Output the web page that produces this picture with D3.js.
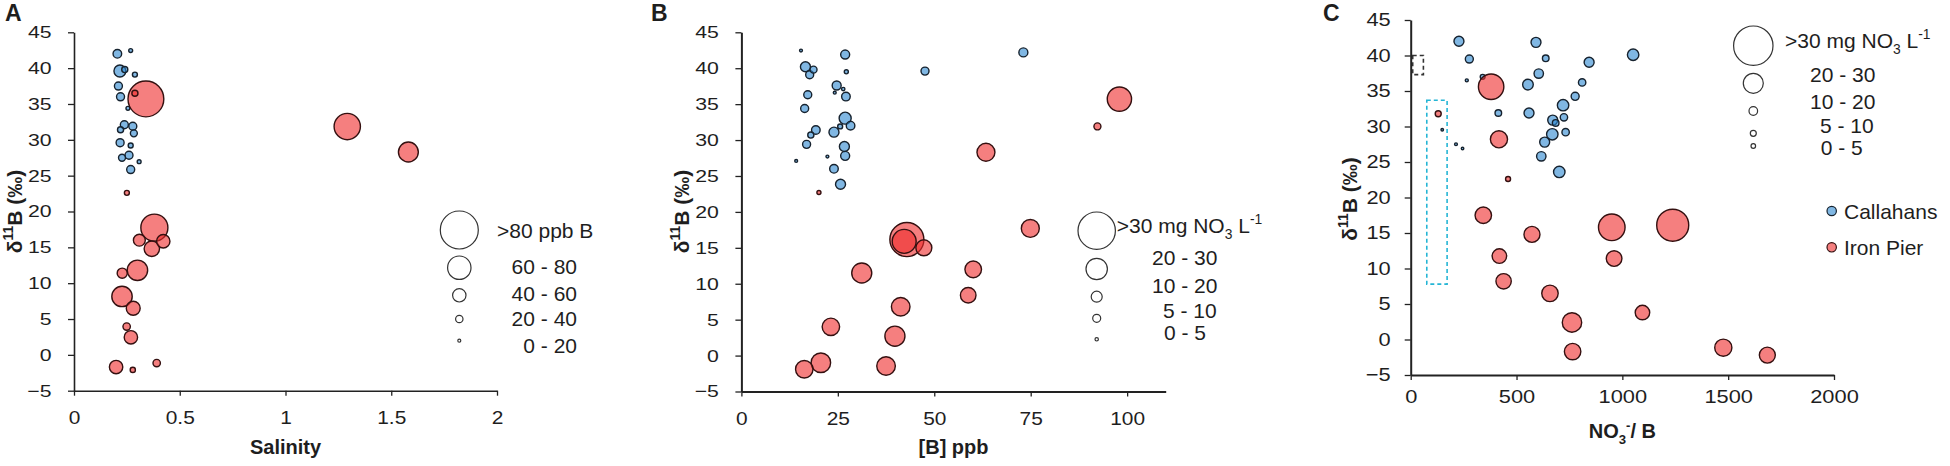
<!DOCTYPE html>
<html>
<head>
<meta charset="utf-8">
<script src="https://cdn.jsdelivr.net/npm/d3@7"></script>
<style>
  body { margin: 0; background: #fff; }
  svg { display: block; }
  text { font-family: "Liberation Sans", Arial, sans-serif; fill: #1e1e1e; }
</style>
</head>
<body>
<svg id="chart" width="1950" height="466"></svg>
<script>
// ---------------------------------------------------------------------------
// Data: [x value, d11B (permil), bubble value]
// ---------------------------------------------------------------------------

// Panel A: salinity vs d11B, bubble = [B] ppb
const salinityCallahans = [
  [0.205, 42.0, 34], [0.268, 42.45, 14], [0.217, 39.6, 45], [0.24, 39.8, 24],
  [0.288, 39.1, 19], [0.21, 37.5, 32], [0.22, 36.0, 32], [0.255, 34.4, 14],
  [0.238, 32.1, 32], [0.278, 31.9, 32], [0.22, 31.4, 24], [0.283, 30.9, 28],
  [0.218, 29.6, 32], [0.268, 29.2, 19], [0.26, 27.85, 32], [0.227, 27.5, 28],
  [0.308, 26.95, 14], [0.268, 25.85, 32]
];
const salinityIronPier = [
  [0.34, 35.7, 87], [0.288, 36.5, 24], [1.292, 31.85, 74], [1.581, 28.3, 63],
  [0.25, 22.6, 19], [0.38, 17.75, 75], [0.309, 16.0, 45], [0.422, 15.85, 50],
  [0.368, 14.8, 54], [0.3, 11.8, 64], [0.228, 11.4, 39], [0.227, 8.15, 64],
  [0.28, 6.5, 51], [0.249, 3.95, 30], [0.269, 2.45, 50], [0.199, -1.7, 50],
  [0.278, -2.1, 20], [0.391, -1.15, 30]
];

// Panel B: [B] ppb vs d11B, bubble = mg NO3 per L
const boronCallahans = [
  [15.45, 42.45, 1.6], [26.9, 41.9, 10], [73.1, 42.2, 10], [16.6, 40.2, 12.5],
  [18.7, 39.8, 6.4], [17.7, 39.1, 7.5], [27.2, 39.5, 3.2], [47.6, 39.6, 7.5],
  [24.7, 37.6, 10], [24.2, 36.6, 1.6], [26.4, 37.1, 2.5], [27.1, 36.05, 9],
  [17.2, 36.3, 7.5], [16.4, 34.4, 7.5], [26.9, 33.05, 16], [25.6, 31.9, 4.2],
  [28.3, 32.0, 9], [19.3, 31.4, 9], [18.0, 30.7, 5.5], [24.0, 31.1, 12.5],
  [16.9, 29.4, 7.5], [26.7, 29.1, 12.5], [26.9, 27.8, 10], [14.2, 27.1, 1.6],
  [22.3, 27.7, 1.6], [24.0, 26.0, 9], [25.7, 23.85, 12.5]
];
const boronIronPier = [
  [20.1, 22.7, 3.2], [98.0, 35.7, 26.8], [92.3, 31.9, 6.4], [63.4, 28.3, 21.7],
  [74.9, 17.7, 21.7], [42.9, 16.15, 32.9], [42.2, 15.9, 26.6], [47.3, 15.0, 19.8],
  [31.2, 11.5, 23.7], [60.1, 12.0, 20.4], [58.8, 8.4, 19.4], [41.3, 6.8, 22.3],
  [23.2, 4.0, 21.2], [39.8, 2.7, 23.7], [20.6, -1.0, 23.2], [16.3, -1.9, 21.2],
  [37.5, -1.45, 22.3]
];

// Panel C: NO3-/B vs d11B, bubble = mg NO3 per L
const ratioCallahans = [
  [228, 42.0, 16.2], [592, 41.85, 16.2], [277, 39.5, 13.3], [638, 39.6, 9.2],
  [843, 39.05, 16.2], [1051, 40.1, 17.5], [605, 37.45, 15.7], [554, 35.9, 16.8],
  [810, 36.2, 11.5], [777, 34.25, 13.3], [720, 33.0, 17.5], [414, 31.9, 9.2],
  [559, 31.9, 16.2], [671, 30.9, 16.2], [685, 30.5, 9.2], [724, 31.3, 11.5],
  [669, 28.9, 17.5], [732, 29.2, 11.5], [633, 27.8, 16.2], [617, 25.8, 15.7],
  [702, 23.6, 17.5], [265, 36.5, 1], [340, 37.0, 3.5], [149, 29.55, 0.5],
  [214, 27.5, 0.8], [245, 26.9, 0.5]
];
const ratioIronPier = [
  [380, 35.6, 27.8], [417, 28.2, 22.5], [130, 31.8, 7.5], [460, 22.6, 3.9],
  [343, 17.5, 21.9], [573, 14.8, 21.5], [419, 11.75, 20.2], [439, 8.2, 20.9],
  [658, 6.5, 21.9], [950, 15.8, 28.4], [961, 11.4, 21.2], [1238, 16.1, 31.2],
  [1095, 3.8, 20.2], [762, 2.4, 24.5], [765, -1.7, 21.9], [1477, -1.15, 22.5],
  [1685, -2.2, 21.5]
];

// Dashed boxes in panel C: [x0, x1, y0, y1]
const boxBlack = [9.5, 60, 37.3, 40.0];
const boxCyan = [76, 172, 7.8, 33.7];

// Ticks and labels
const d11bTicks = [-5, 0, 5, 10, 15, 20, 25, 30, 35, 40, 45];
const salinityTicks = [0, 0.5, 1, 1.5, 2];
const boronTicks = [0, 25, 50, 75, 100];
const ratioTicks = [0, 500, 1000, 1500, 2000];

const boronClasses = [">80 ppb B", "60 - 80", "40 - 60", "20 - 40", "0 - 20"];
const boronClassValues = [90, 70, 50, 30, 10];
const nitrateClasses = [
  [[">30 mg NO"], ["3", "sub"], [" L"], ["-1", "sup"]],
  [["20 - 30"]], [["10 - 20"]], [["5 - 10"]], [["0 - 5"]]
];
const nitrateClassValues = [35, 25, 15, 7.5, 2.5];
const sites = ["Callahans", "Iron Pier"];

// ---------------------------------------------------------------------------
// Styles / helpers
// ---------------------------------------------------------------------------

const FILL = { "Callahans": "#2b87d1", "Iron Pier": "#ee2a2a" };
const EDGE = { "Callahans": "#16222e", "Iron Pier": "#341010" };

const svg = d3.select("#chart");

function rich(text, parts, fs) {
  let cur = 0;
  parts.forEach(([t, kind]) => {
    const off = kind === "sup" ? -0.42 * fs : kind === "sub" ? 0.3 * fs : 0;
    text.append("tspan")
      .attr("dy", off - cur)
      .attr("font-size", kind ? fs * 0.66 : fs)
      .text(t);
    cur = off;
  });
}

const d11bTitle = [["δ"], ["11", "sup"], ["B (‰)"]];

function drawPanel(p) {
  const g = svg.append("g");
  const x = d3.scaleLinear().domain(p.xDomain).range(p.xRange);
  const y = d3.scaleLinear().domain([-5, 45]).range(p.yRange);
  const size = d3.scaleLinear().domain(p.sizeDomain).range(p.sizeRange);

  // x axis
  const xa = g.append("g")
    .attr("transform", `translate(0,${p.yRange[0]})`)
    .call(d3.axisBottom(x).tickValues(p.xTicks).tickFormat((d) => String(d))
      .tickSize(5).tickSizeOuter(0).tickPadding(p.xPad));
  xa.selectAll(".tick text")
    .attr("font-size", p.xFont)
    .attr("transform", `scale(${p.stretch},1)`);

  // y axis
  const ya = g.append("g")
    .attr("transform", `translate(${p.xRange[0]},0)`)
    .call(d3.axisLeft(y).tickValues(d11bTicks).tickSize(6).tickSizeOuter(0).tickPadding(p.yPad));
  ya.selectAll(".tick text")
    .attr("font-size", p.yFont)
    .attr("transform", `scale(${p.yStretch},1)`);

  g.selectAll(".domain").attr("stroke", "#222").attr("stroke-width", p.axisWidth);
  g.selectAll(".tick line").attr("stroke", "#222").attr("stroke-width", 1.3);
  g.selectAll(".tick text").style("font-family", "'Liberation Sans', Arial, sans-serif").attr("fill", "#1e1e1e");

  // annotation boxes
  (p.boxes || []).forEach(([b, col]) => {
    g.append("rect")
      .attr("x", x(b[0])).attr("y", y(b[3]))
      .attr("width", x(b[1]) - x(b[0])).attr("height", y(b[2]) - y(b[3]))
      .attr("fill", "none").attr("stroke", col)
      .attr("stroke-width", 1.6).attr("stroke-dasharray", "4,3");
  });

  // bubbles: Callahans first, Iron Pier on top; big ones underneath
  p.series.forEach(([site, rows]) => {
    g.append("g")
      .selectAll("circle")
      .data(rows.slice().sort((a, b) => b[2] - a[2]))
      .join("circle")
      .attr("cx", (d) => x(d[0]))
      .attr("cy", (d) => y(d[1]))
      .attr("r", (d) => size(d[2]))
      .attr("fill", FILL[site])
      .attr("fill-opacity", 0.6)
      .attr("stroke", EDGE[site])
      .attr("stroke-width", 1.4);
  });

  // size legend
  const lg = g.append("g");
  p.legendValues.forEach((v, i) => {
    lg.append("circle")
      .attr("cx", p.legendX).attr("cy", p.legendCy[i])
      .attr("r", size(v))
      .attr("fill", "none").attr("stroke", "#333").attr("stroke-width", 1.2);
    const t = lg.append("text")
      .attr("x", p.labelX[i]).attr("y", p.labelCy[i])
      .attr("dy", "0.36em")
      .attr("font-size", p.legendFont)
      .attr("text-anchor", p.labelAnchor[i]);
    const lab = p.legendLabels[i];
    if (typeof lab === "string") t.text(lab);
    else rich(t, lab, p.legendFont);
  });

  // axis titles
  const xt = g.append("text")
    .attr("x", (p.xRange[0] + p.xRange[1]) / 2)
    .attr("y", p.xTitleY)
    .attr("text-anchor", "middle")
    .attr("font-weight", "bold")
    .attr("font-size", 20);
  rich(xt, p.xTitle, 20);

  const yt = g.append("text")
    .attr("transform", `translate(${p.yTitleX},${p.yTitleY}) rotate(-90)`)
    .attr("text-anchor", "middle")
    .attr("font-weight", "bold")
    .attr("font-size", 21);
  rich(yt, d11bTitle, 21);

  g.append("text")
    .attr("x", p.letterX).attr("y", 21)
    .attr("font-weight", "bold").attr("font-size", 23)
    .text(p.letter);

  return { g, x, y, size };
}

// ---------------------------------------------------------------------------
// Panels
// ---------------------------------------------------------------------------

drawPanel({
  letter: "A", letterX: 5,
  xDomain: [0, 2], xRange: [74, 497], yRange: [390.7, 32.3],
  xTicks: salinityTicks, xPad: 15, yPad: 12, xFont: 19, yFont: 17,
  stretch: 1.1, yStretch: 1.25, axisWidth: 1.6,
  sizeDomain: [0, 10, 30, 50, 70, 90], sizeRange: [1, 1.5, 3.7, 6.7, 11.7, 19],
  series: [["Callahans", salinityCallahans], ["Iron Pier", salinityIronPier]],
  legendValues: boronClassValues, legendLabels: boronClasses,
  legendX: 459.3, legendCy: [230, 267.7, 295.3, 319, 340.7],
  labelX: [497, 577, 577, 577, 577], labelCy: [230, 266.7, 293.3, 318.3, 345],
  labelAnchor: ["start", "end", "end", "end", "end"], legendFont: 21,
  xTitle: [["Salinity"]], xTitleY: 454,
  yTitleX: 22, yTitleY: 211.5
});

drawPanel({
  letter: "B", letterX: 651,
  xDomain: [0, 110], xRange: [741.4, 1165.7], yRange: [391.5, 32.3],
  xTicks: boronTicks, xPad: 15, yPad: 12, xFont: 19, yFont: 17,
  stretch: 1.1, yStretch: 1.25, axisWidth: 2,
  sizeDomain: [0, 2.5, 7.5, 15, 25, 35], sizeRange: [1, 1.7, 4, 5.5, 10.7, 18.7],
  series: [["Callahans", boronCallahans], ["Iron Pier", boronIronPier]],
  legendValues: nitrateClassValues, legendLabels: nitrateClasses,
  legendX: 1096.7, legendCy: [230.7, 269, 296.7, 318.3, 339.3],
  labelX: [1116.7, 1152, 1152, 1163, 1164], labelCy: [233, 265, 292.7, 318.3, 340],
  labelAnchor: ["start", "start", "start", "start", "start"], legendFont: 21,
  xTitle: [["[B] ppb"]], xTitleY: 454,
  yTitleX: 689, yTitleY: 211.5
});

const panelC = drawPanel({
  letter: "C", letterX: 1323,
  xDomain: [0, 2000], xRange: [1410.7, 1834], yRange: [375, 20],
  xTicks: ratioTicks, xPad: 10, yPad: 11, xFont: 18.5, yFont: 18.5,
  stretch: 1.18, yStretch: 1.18, axisWidth: 2,
  sizeDomain: [0, 2.5, 7.5, 15, 25, 35], sizeRange: [1, 2.3, 3, 4.3, 10, 19.7],
  series: [["Callahans", ratioCallahans], ["Iron Pier", ratioIronPier]],
  boxes: [[boxBlack, "#333"], [boxCyan, "#25b5d5"]],
  legendValues: nitrateClassValues, legendLabels: nitrateClasses,
  legendX: 1753.3, legendCy: [45.7, 83.3, 111, 133.3, 146],
  labelX: [1785, 1810, 1810, 1820, 1820.7], labelCy: [47.5, 81.7, 109, 132.7, 155],
  labelAnchor: ["start", "start", "start", "start", "start"], legendFont: 21,
  xTitle: [["NO"], ["3", "sub"], ["-", "sup"], ["/ B"]], xTitleY: 438,
  yTitleX: 1357, yTitleY: 199
});

// site colour legend (panel C)
const siteLegendY = [211, 247.3];
sites.forEach((site, i) => {
  panelC.g.append("circle")
    .attr("cx", 1831.7).attr("cy", siteLegendY[i]).attr("r", 4.7)
    .attr("fill", FILL[site]).attr("fill-opacity", 0.6)
    .attr("stroke", EDGE[site]).attr("stroke-width", 1.2);
  panelC.g.append("text")
    .attr("x", 1844).attr("y", siteLegendY[i]).attr("dy", "0.36em")
    .attr("font-size", 21)
    .text(site);
});
</script>
</body>
</html>
